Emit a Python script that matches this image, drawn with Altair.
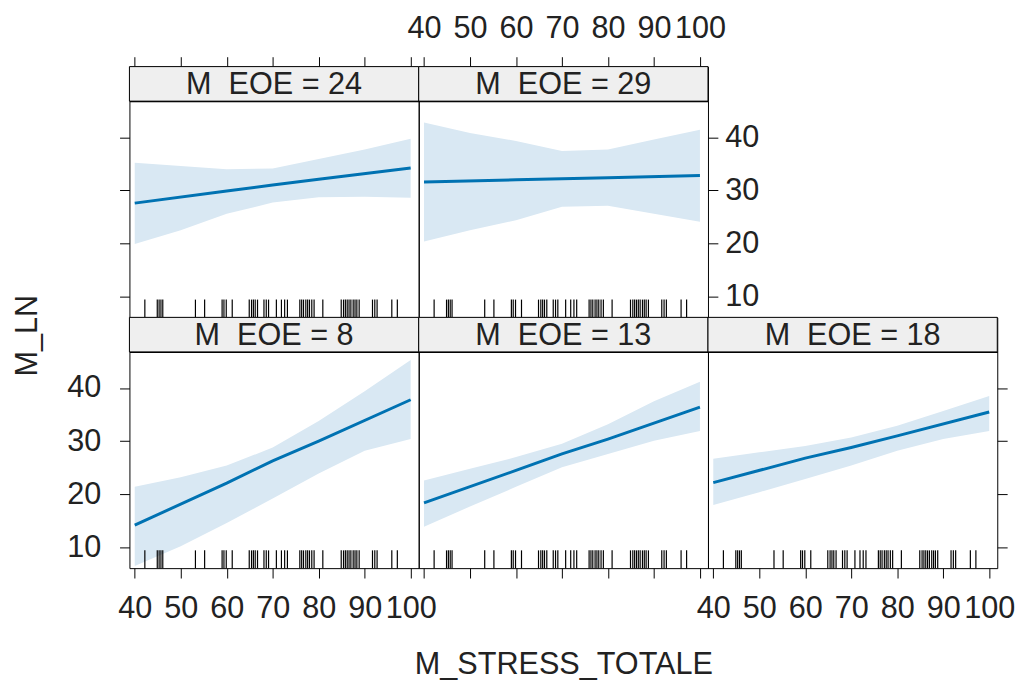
import altair as alt
import pandas as pd

# ---------------- data ----------------
X_DOMAIN = [38.85, 101.75]
Y_DOMAIN = [6.1, 46.8]
X_TICKS = [40, 50, 60, 70, 80, 90, 100]
Y_TICKS = [10, 20, 30, 40]

BAND_X = [40, 50, 60, 70, 80, 90, 100]
upper_8 = [21.4, 23.2, 25.4, 28.8, 33.8, 39.4, 45.3]
lower_8 = [6.5, 10.2, 14.6, 19.2, 23.9, 28.2, 30.4]
upper_13 = [22.6, 24.8, 27.0, 29.5, 33.2, 37.5, 41.2]
lower_13 = [13.9, 17.7, 21.4, 25.1, 27.6, 30.1, 31.9]
upper_18 = [26.7, 27.9, 29.1, 30.7, 32.9, 35.7, 38.5]
lower_18 = [18.0, 20.4, 22.9, 25.4, 28.2, 30.4, 31.9]
upper_24 = [35.2, 34.6, 34.0, 34.1, 35.9, 37.7, 39.7]
lower_24 = [19.9, 22.5, 25.6, 27.7, 28.7, 28.8, 28.6]
upper_29 = [42.8, 40.8, 39.3, 37.4, 37.7, 39.6, 41.4]
lower_29 = [20.4, 22.5, 24.4, 26.9, 27.1, 25.6, 24.1]

LINE_X = [40, 60, 70, 80, 100]
fit_8 = [14.2, 22.1, 26.3, 30.0, 37.8]
fit_13 = [18.4, 24.5, 27.6, 30.4, 36.4]
fit_18 = [22.2, 26.8, 28.8, 31.0, 35.5]
fit_24 = [27.6, 29.9, 31.0, 32.1, 34.2]
fit_29 = [31.6, 32.0, 32.2, 32.4, 32.8]

RUG = [42.2, 44.9, 45.3, 45.7, 46.1, 53.2, 55.2, 59.0, 59.4, 59.9, 61.2,
       64.9, 65.4, 65.8, 66.2, 66.7, 68.1, 68.6, 69.1, 70.8, 71.9, 72.6,
       73.2, 75.9, 76.3, 76.7, 77.2, 77.6, 78.0, 78.5, 79.0, 80.9, 84.9,
       85.4, 85.8, 86.2, 86.6, 87.0, 87.5, 87.9, 88.3, 88.8, 91.7, 92.2,
       92.7, 95.9, 97.1]

UPPER = {8: upper_8, 13: upper_13, 18: upper_18, 24: upper_24, 29: upper_29}
LOWER = {8: lower_8, 13: lower_13, 18: lower_18, 24: lower_24, 29: lower_29}
FIT = {8: fit_8, 13: fit_13, 18: fit_18, 24: fit_24, 29: fit_29}

# ---------------- styling ----------------
FONT = "Liberation Sans"
FS = 31
W = 293
STRIP_H = 35
PLOT_H = 219
RUG_LEN = 18
LINE_COLOR = "#0072B2"
BAND_COLOR = "#D9E8F3"
STRIP_FILL = "#EFEFEF"
TEXT_COLOR = "#222222"

xs = alt.Scale(domain=X_DOMAIN, nice=False, zero=False)
ys = alt.Scale(domain=Y_DOMAIN, nice=False, zero=False)

rug_df = pd.DataFrame({"x": RUG})


def panel(eoe, xaxis, yaxis):
    band_df = pd.DataFrame({"x": BAND_X, "lower": LOWER[eoe], "upper": UPPER[eoe]})
    line_df = pd.DataFrame({"x": LINE_X, "fit": FIT[eoe]})
    band = alt.Chart(band_df).mark_area(color=BAND_COLOR, clip=True).encode(
        x=alt.X("x:Q", scale=xs, axis=xaxis),
        y=alt.Y("lower:Q", scale=ys, axis=yaxis),
        y2="upper:Q",
    )
    line = alt.Chart(line_df).mark_line(color=LINE_COLOR, strokeWidth=3, clip=True).encode(
        x=alt.X("x:Q", scale=xs, axis=xaxis),
        y=alt.Y("fit:Q", scale=ys, axis=yaxis),
    )
    rug = alt.Chart(rug_df).mark_rule(color="black", strokeWidth=1.2).encode(
        x=alt.X("x:Q", scale=xs, axis=xaxis),
        y=alt.value(PLOT_H),
        y2=alt.value(PLOT_H - RUG_LEN),
    )
    return alt.layer(band, line, rug).properties(width=W, height=PLOT_H)


def strip(eoe, xaxis):
    df = pd.DataFrame({"lo": [X_DOMAIN[0]], "hi": [X_DOMAIN[1]],
                       "label": [f"M\u00a0\u00a0EOE = {eoe}"]})
    rect = alt.Chart(df).mark_rect(fill=STRIP_FILL, stroke="black", strokeWidth=1).encode(
        x=alt.X("lo:Q", scale=xs, axis=xaxis),
        x2="hi:Q",
        y=alt.value(0),
        y2=alt.value(STRIP_H),
    )
    txt = alt.Chart(df).mark_text(font=FONT, fontSize=FS, color=TEXT_COLOR,
                                  baseline="middle", align="center").encode(
        x=alt.value(W / 2),
        y=alt.value(STRIP_H / 2 + 1),
        text="label:N",
    )
    return alt.layer(rect, txt).properties(width=W, height=STRIP_H)


def empty(h):
    df = pd.DataFrame({"a": [0]})
    return alt.Chart(df).mark_point(opacity=0).encode(
        x=alt.X("a:Q", axis=None), y=alt.Y("a:Q", axis=None)
    ).properties(width=W, height=h, view=alt.ViewBackground(stroke="transparent"))


top_ticks = alt.Axis(orient="top", values=X_TICKS, labels=False, title=None)
top_labels = alt.Axis(orient="top", values=X_TICKS, title=None, labelPadding=12)
bot_labels = alt.Axis(orient="bottom", values=X_TICKS, title=None, labelPadding=16)
bot_title = alt.Axis(orient="bottom", values=X_TICKS, labels=False,
                     title="M_STRESS_TOTALE", titlePadding=72)
left_ticks = alt.Axis(orient="left", values=Y_TICKS, labels=False, title=None)
left_labels = alt.Axis(orient="left", values=Y_TICKS, title="M_LN", labelPadding=19,
                       titleX=-87, titleY=-17, titleAngle=270,
                       titleAlign="center", titleBaseline="bottom")
right_labels = alt.Axis(orient="right", values=Y_TICKS, title=None, labelPadding=7)
right_ticks = alt.Axis(orient="right", values=Y_TICKS, labels=False, title=None)

cells = [
    strip(24, top_ticks), strip(29, top_labels), empty(STRIP_H),
    panel(24, None, left_ticks), panel(29, None, right_labels), empty(PLOT_H),
    strip(8, None), strip(13, None), strip(18, None),
    panel(8, bot_labels, left_labels),
    panel(13, bot_title, None),
    panel(18, bot_labels, right_ticks),
]

chart = alt.concat(*cells, columns=3, spacing=0, bounds="flush", align="each").properties(
    padding={"left": 3, "top": 0, "right": 2, "bottom": 0}
).configure_view(
    stroke="black", strokeWidth=1
).configure_axis(
    domain=False, grid=False,
    labelFont=FONT, labelFontSize=FS, labelColor=TEXT_COLOR,
    tickColor="black", tickSize=10, tickWidth=1,
    titleFont=FONT, titleFontSize=FS, titleFontWeight="normal", titleColor=TEXT_COLOR,
)

chart.save("out.html", embed_options={"renderer": "svg", "actions": False})
